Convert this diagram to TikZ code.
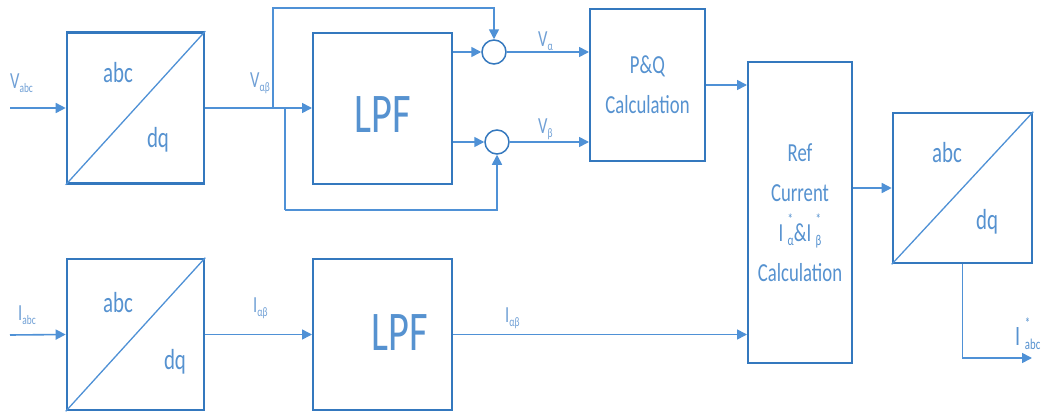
\documentclass[tikz,border=0pt]{standalone}
\usepackage{fontspec}
\setmainfont{Carlito}[FakeStretch=0.72]
\usetikzlibrary{arrows.meta}

\definecolor{lineblue}{RGB}{79,145,214}
\definecolor{boxblue}{RGB}{52,120,190}
\definecolor{txtblue}{RGB}{86,146,208}
\definecolor{lblblue}{RGB}{112,160,214}

% signal names: letter with small index
\newcommand{\sig}[2]{#1\raisebox{-0.4ex}{\fontsize{13}{13}\selectfont #2}}
\newcommand{\starsub}[2]{\rlap{\raisebox{17pt}{\fontsize{15}{15}\selectfont #1}}\raisebox{-4pt}{\fontsize{15}{15}\selectfont #2}}

\begin{document}
\begin{tikzpicture}[x=1pt, y=-1pt,
    conv/.style={rectangle, draw=boxblue, line width=2.6pt, minimum width=137pt, minimum height=151pt},
    box/.style={rectangle, draw=boxblue, line width=2pt, align=center, text=txtblue, font=\fontsize{26}{40}\selectfont},
    sum/.style={circle, draw=boxblue, line width=1.5pt, minimum size=24pt, inner sep=0pt},
    arrow/.style={-{Triangle[length=10pt,width=10pt]}, draw=lineblue, line width=1.6pt},
    line/.style={draw=lineblue, line width=1.6pt},
    diag/.style={draw=lineblue, line width=1.3pt},
    big/.style={text=txtblue, font=\fontsize{29}{29}\selectfont, inner sep=0pt},
    huge/.style={text=txtblue, font=\fontsize{56}{56}\selectfont, inner sep=0pt},
    lbl/.style={text=lblblue, font=\fontsize{23}{23}\selectfont, inner sep=0pt, anchor=base west}
]
\path[use as bounding box, fill=white] (0,0) rectangle (1047,415);

% voltage path
\node[conv] (convV) at (135.5,108) {};
\draw[diag] (convV.south west) -- (convV.north east);
\node[big] (abcV) at (118,73) {abc};
\node[big] (dqV) at (158,140) {dq};

\node[box, minimum width=139pt, minimum height=151pt] (lpfV) at (382.5,108) {};
\node[huge] (lpfVt) at (383,115) {LPF};

\node[sum] (sumA) at (494,52) {};
\node[sum] (sumB) at (497,142) {};

\node[box, minimum width=115pt, minimum height=152pt] (pq) at (647.5,85) {P\&Q\\Calculation};

% current path
\node[conv] (convI) at (135.5,334.5) {};
\draw[diag] (convI.south west) -- (convI.north east);
\node[big] (abcI) at (118,303) {abc};
\node[big] (dqI) at (175,362) {dq};

\node[box, minimum width=139pt, minimum height=151pt] (lpfI) at (382.5,334.5) {};
\node[huge] (lpfIt) at (400,333) {LPF};

% reference current and back to abc
\node[box, minimum width=104pt, minimum height=301pt] (ref) at (800,212.5) {Ref\\Current\\I\,\starsub{*}{α}\&I\,\starsub{*}{β}\\Calculation};

\node[conv, minimum height=150pt, minimum width=139pt] (convR) at (962.5,188) {};
\draw[diag] (convR.south west) -- (convR.north east);
\node[big] (abcR) at (947,153) {abc};
\node[big] (dqR) at (987,222) {dq};

% free ends and bends
\coordinate (vin) at (10,108);
\coordinate (iin) at (10,335);
\coordinate (jv) at (273,108);
\coordinate (jw) at (285,108);
\coordinate (fbtop) at (273,8);
\coordinate (fbbot) at (285,210);
\coordinate (iout) at (1032,358);

\draw[arrow] (vin) -- (convV.west);
\draw[arrow] (convV.east) -- (lpfV.west);
\draw[arrow] (jv) -- (fbtop) -| (sumA.north);
\draw[line] (jw) -- (fbbot);
\draw[arrow] (fbbot) -| (sumB.south);
\draw[arrow] (lpfV.east |- sumA) -- (sumA.west);
\draw[arrow] (lpfV.east |- sumB) -- (sumB.west);
\draw[arrow] (sumA.east) -- (pq.west |- sumA);
\draw[arrow] (sumB.east) -- (pq.west |- sumB);
\draw[arrow] (pq.east) -- (ref.west |- pq);

\draw[arrow] (iin) -- (convI.west);
\draw[arrow] (convI.east) -- (lpfI.west);
\draw[arrow] (lpfI.east) -- (ref.west |- lpfI);

\draw[arrow] (ref.east |- convR) -- (convR.west);
\draw[arrow] (convR.south) |- (iout);

% signal labels
\node[lbl] (lvabc) at (10,88) {\sig{V}{abc}};
\node[lbl] (lvab) at (250,87) {\sig{V}{αβ}};
\node[lbl] (lva) at (538,46) {\sig{V}{α}};
\node[lbl] (lvb) at (538,133) {\sig{V}{β}};
\node[lbl] (liabc) at (18,320) {\sig{I}{abc}};
\node[lbl] (liab) at (253,312) {\sig{I}{αβ}};
\node[lbl] (liab2) at (505,322) {\sig{I}{αβ}};
\node[lbl, text=txtblue, font=\fontsize{28}{28}\selectfont] (liout) at (1015,345) {I\,\starsub{*}{abc}};

\end{tikzpicture}
\end{document}
